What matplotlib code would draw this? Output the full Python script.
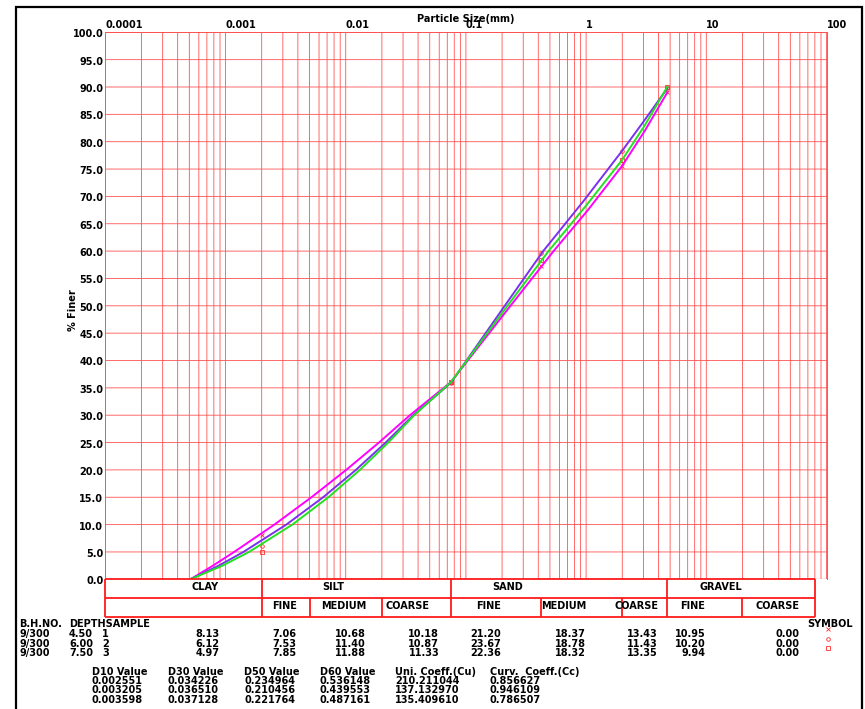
import numpy as np
import matplotlib
matplotlib.use("Agg")
import matplotlib.pyplot as plt
from matplotlib.ticker import LogLocator, NullFormatter
from matplotlib.transforms import offset_copy

W, H = 865, 709

# borehole / sample info
bh_no = ["9/300", "9/300", "9/300"]
depth = [4.50, 6.00, 7.50]
sample = [1, 2, 3]

# fractions (%) per sample
clay = [8.13, 6.12, 4.97]
silt_fine = [7.06, 7.53, 7.85]
silt_medium = [10.68, 11.40, 11.88]
silt_coarse = [10.18, 10.87, 11.33]
sand_fine = [21.20, 23.67, 22.36]
sand_medium = [18.37, 18.78, 18.32]
sand_coarse = [13.43, 11.43, 13.35]
gravel_fine = [10.95, 10.20, 9.94]
gravel_coarse = [0.00, 0.00, 0.00]

d10 = [0.002551, 0.003205, 0.003598]
d30 = [0.034226, 0.036510, 0.037128]
d50 = [0.234964, 0.210456, 0.221764]
d60 = [0.536148, 0.439553, 0.487161]
cu = [210.211044, 137.132970, 135.409610]
cc = [0.856627, 0.946109, 0.786507]

# grading curves: particle size (mm) vs % finer
curve1_size = [0.00051, 0.000787, 0.00118, 0.002551, 0.00519, 0.0101, 0.0189, 0.034226,
               0.075, 0.234964, 0.536148, 1.035, 2.0, 3.08, 4.75]
curve1_finer = [0, 2.5, 5, 10, 15, 20, 25, 30, 36.05, 50, 60, 67.5, 75.62, 82.0, 89.05]
curve2_size = [0.00051, 0.000879, 0.00141, 0.003205, 0.00649, 0.01216, 0.0215, 0.036510,
               0.075, 0.210456, 0.439553, 0.94, 2.0, 3.08, 4.75]
curve2_finer = [0, 2.5, 5, 10, 15, 20, 25, 30, 35.92, 50, 60, 69.0, 78.37, 84.0, 89.80]
curve3_size = [0.00051, 0.000946, 0.00157, 0.003598, 0.00718, 0.01312, 0.0226, 0.037128,
               0.075, 0.221764, 0.487161, 0.99, 2.0, 3.08, 4.75]
curve3_finer = [0, 2.5, 5, 10, 15, 20, 25, 30, 36.03, 50, 60, 68.2, 76.71, 83.0, 90.06]

sieve_sizes = [0.002, 0.075, 0.425, 2.0, 4.75]
class_bounds = [1e-4, 0.002, 0.075, 4.75, 80]
sub_bounds = [1e-4, 0.002, 0.005, 0.02, 0.075, 0.425, 2.0, 4.75, 20, 80]
x_ticks = [1e-4, 1e-3, 1e-2, 1e-1, 1, 10, 100]
x_labels = ["0.0001", "0.001", "0.01", "0.1", "1", "10", "100"]

GRID = "#ff5252"
TXT = dict(fontsize=7, fontweight="bold", color="black")

fig = plt.figure(figsize=(W / 100, H / 100), dpi=100)
fig.patch.set_facecolor("white")


def frac(x0, y0, x1, y1):
    return [x0 / W, 1 - y1 / H, (x1 - x0) / W, (y1 - y0) / H]


ax = fig.add_axes(frac(105.3, 32.3, 826.5, 579.3))
ax.set_xscale("log")
ax.set_xlim(1e-4, 100)
ax.set_ylim(0, 100)
ax.xaxis.set_minor_locator(LogLocator(base=10, subs=np.arange(2, 10), numticks=100))
ax.xaxis.set_minor_formatter(NullFormatter())
ax.set_xticks(x_ticks)
ax.set_xticklabels(x_labels)
ax.xaxis.tick_top()
ax.tick_params(axis="x", which="both", length=0, pad=1.5, labelsize=7)
for lbl in ax.get_xticklabels():
    lbl.set_ha("left")
    lbl.set_fontweight("bold")
yt = np.arange(0, 101, 5)
ax.set_yticks(yt)
ax.tick_params(axis="y", length=0, labelleft=False)
ax.grid(which="both", axis="x", color=GRID, lw=0.6, snap=False)
ax.grid(which="major", axis="y", color=GRID, lw=0.6, snap=False)
ax.set_axisbelow(True)
for side in ["left", "top", "right"]:
    ax.spines[side].set_color(GRID)
    ax.spines[side].set_linewidth(0.7)
ax.spines["bottom"].set_visible(False)

ylab_tr = offset_copy(ax.get_yaxis_transform(), fig=fig, x=-2, y=-5, units="dots")
for v in yt:
    ax.text(0, v, f"{v:.1f}", transform=ylab_tr, ha="right", va="baseline", **TXT)

# sieve markers from cumulative fractions
cum = np.cumsum(np.array([clay, np.array(silt_fine) + np.array(silt_medium) + np.array(silt_coarse),
                          sand_fine, sand_medium, sand_coarse]), axis=0)
markers = ["x", "o", "s"]
msizes = [3, 2.6, 3.4]
for i in range(3):
    ax.plot(sieve_sizes, cum[:, i], ls="none", marker=markers[i], ms=msizes[i],
            mfc="none", mec="#ff2a2a", mew=0.6, zorder=2)

ax.plot(curve1_size, curve1_finer, color="#ff00ff", lw=1.4, zorder=3)
ax.plot(curve2_size, curve2_finer, color="#7b30f0", lw=1.4, zorder=3)
ax.plot(curve3_size, curve3_finer, color="#22e022", lw=1.4, zorder=3)

# soil classification strip
tab = fig.add_axes(frac(105.3, 579.3, 826.5, 617))
tab.set_xscale("log")
tab.set_xlim(1e-4, 100)
tab.set_ylim(0, 2)
tab.axis("off")
tab.hlines([2, 1, 0], 1e-4, 80, color="#ff1a1a", lw=1.3, clip_on=False)
tab.vlines(class_bounds, 1, 2, color="#ff1a1a", lw=1.3, clip_on=False)
tab.vlines(sub_bounds, 0, 1, color="#ff1a1a", lw=1.3, clip_on=False)

# overlay in pixel units for text and frame
ov = fig.add_axes([0, 0, 1, 1])
ov.set_xlim(0, W)
ov.set_ylim(H, 0)
ov.axis("off")

ov.plot([15.7, 15.7, 862.3, 862.3], [H + 5, 7.3, 7.3, H + 5], color="black", lw=1.6,
        solid_joinstyle="miter", clip_on=False)

ov.text(466, 21.5, "Particle Size(mm)", ha="center", va="baseline", **TXT)
ov.text(73, 310, "% Finer", ha="center", va="center", rotation=90, **TXT)

for x, s in [(205, "CLAY"), (333, "SILT"), (508, "SAND"), (721, "GRAVEL")]:
    ov.text(x, 590, s, ha="center", va="baseline", **TXT)
for x, s in [(285, "FINE"), (344, "MEDIUM"), (408, "COARSE"), (489, "FINE"),
             (563.5, "MEDIUM"), (636.5, "COARSE"), (693, "FINE"), (777.5, "COARSE")]:
    ov.text(x, 609, s, ha="center", va="baseline", **TXT)

ov.text(19, 627.3, "B.H.NO.", ha="left", va="baseline", **TXT)
ov.text(69, 627.3, "DEPTHSAMPLE", ha="left", va="baseline", **TXT)
ov.text(830, 627.3, "SYMBOL", ha="center", va="baseline", **TXT)

cols = [clay, silt_fine, silt_medium, silt_coarse, sand_fine, sand_medium,
        sand_coarse, gravel_fine, gravel_coarse]
col_right = [219.3, 296.7, 366, 439.3, 501, 585.7, 657.7, 705.7, 799]
row_base = [637.3, 646.7, 656]
sym_y = [629, 639, 648]
for i in range(3):
    yb = row_base[i]
    ov.text(19, yb, bh_no[i], ha="left", va="baseline", **TXT)
    ov.text(69, yb, f"{depth[i]:.2f}", ha="left", va="baseline", **TXT)
    ov.text(102, yb, str(sample[i]), ha="left", va="baseline", **TXT)
    for c, xr in zip(cols, col_right):
        ov.text(xr, yb, f"{c[i]:.2f}", ha="right", va="baseline", **TXT)
    ov.plot(828.3, sym_y[i], ls="none", marker=markers[i], ms=msizes[i],
            mfc="none", mec="#ff2a2a", mew=0.6)

heads = ["D10 Value", "D30 Value", "D50 Value", "D60 Value", "Uni. Coeff.(Cu)", "Curv.  Coeff.(Cc)"]
head_x = [91.7, 167.7, 244.3, 320, 395, 490]
for s, x in zip(heads, head_x):
    ov.text(x, 675, s, ha="left", va="baseline", **TXT)
val_base = [684, 693.3, 702.7]
for i in range(3):
    for vals, x in zip([d10, d30, d50, d60, cu, cc], head_x):
        ov.text(x, val_base[i], f"{vals[i]:.6f}", ha="left", va="baseline", **TXT)

fig.savefig("out.png", dpi=100)
